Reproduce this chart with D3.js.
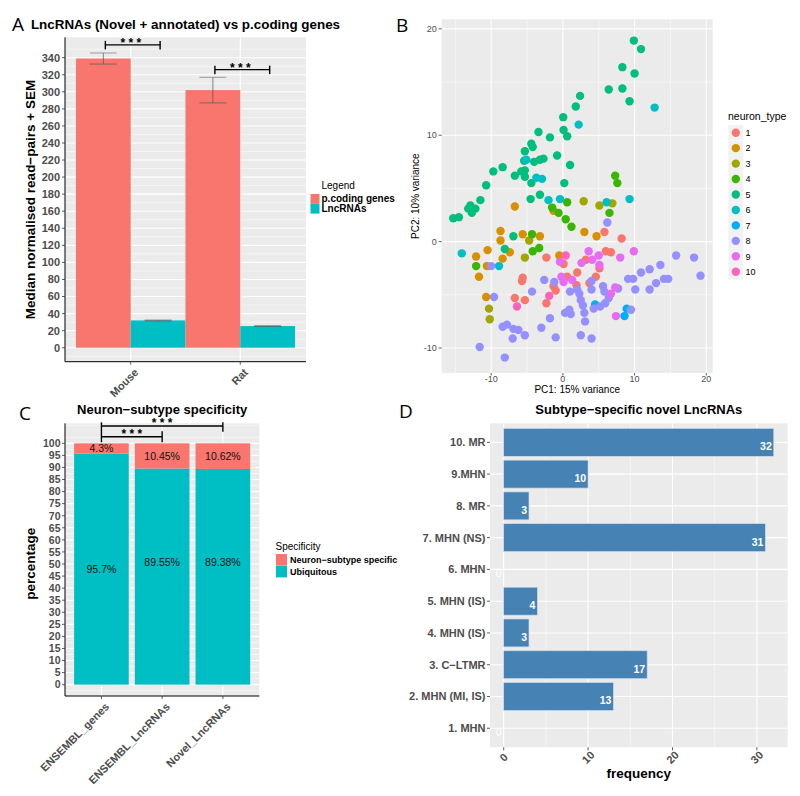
<!DOCTYPE html>
<html><head><meta charset="utf-8">
<script src="https://cdn.jsdelivr.net/npm/d3@7"></script>
<style>
body{margin:0;background:#fff}
text{font-family:"Liberation Sans",Arial,Helvetica,sans-serif}
</style>
</head><body>
<svg id="c" width="800" height="796" xmlns="http://www.w3.org/2000/svg"></svg>
<script>
// ---------------- DATA ----------------
// Panel A
const speciesA = ["Mouse", "Rat"];
const seriesA = ["p.coding genes", "LncRNAs"];
const codingMedian = [339, 302];
const codingSEM = [6.5, 15];
const lncMedian = [32, 25.4];
const lncSEM = [0.5, 0.4];
const ticksA = d3.range(0, 341, 20);
const sigA = ["* * *", "* * *"];
const sigLevelA = [355, 326];

// Panel B (PCA)
const neuronTypes = ["1","2","3","4","5","6","7","8","9","10"];
const typeColors = ["#F8766D","#D89000","#A3A500","#39B600","#00BF7D","#00BFC4","#00B0F6","#9590FF","#E76BF3","#FF62BC"];
const type1 = [[5.8,0.9],[8.2,0.3],[6.0,-0.9],[6.7,-1.0],[-2.3,-1.5],[3.2,-1.7],[5.1,-2.5],[2.0,-2.9],[4.6,-3.3],[0.6,-3.3],[-5.6,-3.4],[-5.7,-3.7],[3.7,-3.9],[-1.3,-4.2],[-1.0,-4.6],[-6.7,-5.3],[-5.3,-5.5],[-2.3,-5.8],[0.1,-2.1],[1.9,-4.1]];
const type2 = [[-6.7,3.3],[-8.7,1.0],[-8.7,0.1],[-5.6,0.7],[-3.2,0.5],[-7.4,-1.0],[-10.5,-0.8],[-12.1,-1.4],[-8.4,-1.6],[-10.6,-2.3],[-11.7,-3.3],[-10.7,-5.2],[3.0,0.9],[4.7,0.5],[-0.5,-1.3],[-1.3,2.9]];
const type3 = [[2.9,3.8],[5.1,3.4],[6.9,3.6],[-4.7,0.1],[-5.3,-1.5],[-10.3,-6.3],[-10.2,-7.3]];
const type4 = [[7.3,6.2],[7.6,5.5],[6.5,2.7],[0.6,3.7],[-1.5,3.2],[-0.6,2.7],[0.4,2.1],[1.2,1.4],[-4.3,0.7],[-3.3,-0.6],[-4.2,-0.9],[-12.1,-2.3]];
const type5 = [[9.9,18.9],[10.9,18.1],[8.3,16.4],[10.0,15.8],[6.4,14.3],[8.3,14.4],[9.3,13.2],[2.4,13.7],[1.8,12.7],[0.05,11.7],[0.1,10.5],[0.6,9.9],[-3.4,10.3],[-1.8,9.8],[-4.4,9.2],[-4.2,8.9],[-5.3,8.5],[-0.8,8.1],[-2.7,7.8],[-3.2,7.7],[-4.0,7.5],[-5.4,7.6],[1.0,7.2],[-8.4,7.0],[-9.7,6.6],[-6.7,6.2],[-5.8,6.6],[-5.3,6.7],[-5.3,6.1],[-4.4,5.5],[0.2,5.5],[-10.7,5.3],[-4.5,4.0],[-3.2,4.4],[-11.5,3.9],[-12.9,3.4],[-12.2,3.1],[-12.7,2.7],[-13.2,3.1],[-14.5,2.3],[-15.3,2.2],[-6.9,0.5],[-8.1,-0.7]];
const type6 = [[12.8,12.6],[2.2,11.0],[-5.1,7.7],[-3.7,6.0],[-2.9,5.9],[-2.0,3.9],[-0.4,4.0],[6.1,3.7],[9.3,4.0],[-14.1,-1.1],[-8.9,-2.3]];
const type7 = [[4.5,-5.9],[8.9,-6.3],[8.6,-7.0]];
const type8 = [[6.2,1.8],[15.8,-1.3],[18.3,-1.5],[19.2,-3.2],[13.6,-2.2],[10.9,-2.9],[12.1,-2.6],[9.1,-3.5],[9.8,-3.5],[10.1,-4.5],[12.1,-4.5],[13.0,-3.9],[14.1,-3.5],[14.7,-3.5],[-2.6,-3.6],[-1.2,-3.8],[-4.3,-4.7],[1.0,-4.7],[2.0,-4.5],[2.3,-4.9],[4.0,-4.5],[5.6,-4.2],[5.8,-4.7],[6.4,-5.3],[5.9,-5.8],[5.2,-6.1],[4.3,-6.3],[2.5,-5.5],[2.8,-6.0],[3.0,-6.7],[3.1,-7.5],[0.9,-6.4],[1.1,-6.8],[0.3,-6.7],[-1.8,-7.2],[-3.0,-8.1],[-1.0,-9.0],[2.5,-8.8],[4.0,-9.1],[9.5,-6.4],[7.7,-4.4],[-8.4,-8.0],[-7.8,-7.8],[-6.9,-8.2],[-6.2,-8.3],[-7.0,-9.1],[-5.3,-8.8],[-9.6,-5.2],[-10.0,-2.3],[-11.6,-9.9],[-8.1,-10.9],[4.0,-3.7]];
const type9 = [[3.6,-0.9],[5.0,-1.3],[4.1,-1.7],[8.0,-1.5],[9.9,-0.9],[-0.4,-1.9],[2.6,-2.0],[5.1,-2.2],[-0.2,-3.3],[0.1,-3.8],[1.3,-3.6],[7.3,-4.3],[6.7,-4.9],[7.4,-7.0]];
const type10 = [[0.4,-1.3],[-1.9,-5.1],[-6.4,-6.1]];
const ticksB = [-10, 0, 10, 20];

// Panel C
const groupsC = ["ENSEMBL_genes", "ENSEMBL_LncRNAs", "Novel_LncRNAs"];
const ubiquitousPct = [95.7, 89.55, 89.38];
const specificPct = [4.3, 10.45, 10.62];
const ubiqLabelAt = [47.85, 50.85, 50.85];
const ticksC = d3.range(0, 101, 5);
const specLegend = ["Neuron\u2212subtype specific", "Ubiquitous"];
const sigC = ["* * *", "* * *"];

// Panel D
const subtypesD = ["1. MHN","2. MHN (MI, IS)","3. C\u2212LTMR","4. MHN (IS)","5. MHN (IS)","6. MHN","7. MHN (NS)","8. MR","9.MHN","10. MR"];
const freqD = [0, 13, 17, 3, 4, 0, 31, 3, 10, 32];
const ticksD = [0, 10, 20, 30];

// ---------------- DRAW ----------------
const svg = d3.select("#c");
const BG = "#EBEBEB", AX = "#4D4D4D", TICK = "#333333";
const red = "#F8766D", teal = "#00BFC4";

function panelLetter(t, x, y) {
  svg.append("text").attr("x", x).attr("y", y).text(t)
    .style("font-family", '"Open Sans","DejaVu Sans",sans-serif').style("font-size", "19px").attr("fill", "#000");
}
function line(g, x1, y1, x2, y2, stroke, w) {
  g.append("line").attr("x1", x1).attr("y1", y1).attr("x2", x2).attr("y2", y2)
    .attr("stroke", stroke).attr("stroke-width", w);
}

// ===== Panel A =====
{
  const P = {l: 65, r: 306, t: 37.3, b: 361.7};
  const g = svg.append("g");
  const x = d3.scalePoint().domain(speciesA).range([P.l, P.r]).padding(0.6);
  const y = d3.scaleLinear().domain([-16.4, 363.9]).range([P.b, P.t]);
  g.append("rect").attr("x", P.l).attr("y", P.t).attr("width", P.r - P.l).attr("height", P.b - P.t).attr("fill", BG);
  d3.range(-10, 361, 20).forEach(v => line(g, P.l, y(v), P.r, y(v), "#fff", 0.5));
  ticksA.forEach(v => line(g, P.l, y(v), P.r, y(v), "#fff", 1.1));
  speciesA.forEach(s => line(g, x(s), P.t, x(s), P.b, "#fff", 1.1));
  const bw = x.step() / 2;
  speciesA.forEach((s, i) => {
    g.append("rect").attr("x", x(s) - bw).attr("y", y(codingMedian[i])).attr("width", bw)
      .attr("height", y(0) - y(codingMedian[i])).attr("fill", red);
    g.append("rect").attr("x", x(s)).attr("y", y(lncMedian[i])).attr("width", bw)
      .attr("height", y(0) - y(lncMedian[i])).attr("fill", teal);
    const eb = (cx, v, e) => {
      line(g, cx, y(v - e), cx, y(v + e), "#555", 0.7);
      line(g, cx - 13.5, y(v + e), cx + 13.5, y(v + e), "#777", 0.7);
      line(g, cx - 13.5, y(v - e), cx + 13.5, y(v - e), "#555", 0.7);
    };
    eb(x(s) - bw / 2, codingMedian[i], codingSEM[i]);
    eb(x(s) + bw / 2, lncMedian[i], lncSEM[i]);
    // significance bracket
    const by = y(sigLevelA[i]);
    const x1 = x(s) - bw / 2 + 2, x2 = x(s) + bw / 2 + 2;
    line(g, x1, by, x2, by, "#000", 1.4);
    line(g, x1, by - 4, x1, by + 4.5, "#000", 1.4);
    line(g, x2, by - 4, x2, by + 4.5, "#000", 1.4);
    g.append("text").attr("x", x(s)).attr("y", by + 2.5).attr("text-anchor", "middle")
      .style("font-size", "12px").style("font-weight", "bold").text(sigA[i]);
  });
  // axes
  line(g, P.l, P.t, P.l, P.b, "#000", 1);
  line(g, P.l, P.b, P.r, P.b, "#000", 1);
  ticksA.forEach(v => {
    line(g, P.l - 3, y(v), P.l, y(v), TICK, 0.8);
    g.append("text").attr("x", P.l - 5).attr("y", y(v)).attr("dy", "0.36em").attr("text-anchor", "end")
      .attr("fill", AX).style("font-size", "11px").style("font-weight", "bold").text(v);
  });
  speciesA.forEach(s => {
    line(g, x(s), P.b, x(s), P.b + 3, TICK, 0.8);
    g.append("text").attr("transform", `translate(${x(s) + 3},${P.b + 6}) rotate(-45)`)
      .attr("text-anchor", "end").attr("dy", "0.7em").attr("fill", AX)
      .style("font-size", "11px").style("font-weight", "bold").text(s);
  });
  g.append("text").attr("transform", `translate(35,${(P.t + P.b) / 2}) rotate(-90)`).attr("text-anchor", "middle")
    .style("font-size", "13.5px").style("font-weight", "bold").text("Median normalised read\u2212pairs + SEM");
  g.append("text").attr("x", (P.l + P.r) / 2).attr("y", 28.5).attr("text-anchor", "middle")
    .style("font-size", "13.4px").style("font-weight", "bold").text("LncRNAs (Novel + annotated) vs p.coding genes");
  // legend
  g.append("text").attr("x", 321.5).attr("y", 189).style("font-size", "10px").text("Legend");
  [red, teal].forEach((c, i) => {
    g.append("rect").attr("x", 310.5).attr("y", 194 + i * 9.8).attr("width", 9).attr("height", 9.8).attr("fill", c);
    g.append("text").attr("x", 321.5).attr("y", 199 + i * 9.8).attr("dy", "0.34em")
      .style("font-size", "10px").style("font-weight", "bold").text(seriesA[i]);
  });
  panelLetter("A", 12, 31);
}

// ===== Panel B =====
{
  const P = {l: 441.7, r: 712.7, t: 19.3, b: 373};
  const g = svg.append("g");
  const x = d3.scaleLinear().domain([-16.9, 20.9]).range([P.l, P.r]);
  const y = d3.scaleLinear().domain([-12.35, 20.9]).range([P.b, P.t]);
  g.append("rect").attr("x", P.l).attr("y", P.t).attr("width", P.r - P.l).attr("height", P.b - P.t).attr("fill", BG);
  [-15, -5, 5, 15].forEach(v => line(g, x(v), P.t, x(v), P.b, "#fff", 0.5));
  [-5, 5, 15].forEach(v => line(g, P.l, y(v), P.r, y(v), "#fff", 0.5));
  ticksB.forEach(v => { line(g, x(v), P.t, x(v), P.b, "#fff", 1.1); line(g, P.l, y(v), P.r, y(v), "#fff", 1.1); });
  const all = [type1, type2, type3, type4, type5, type6, type7, type8, type9, type10];
  all.forEach((pts, k) => {
    g.selectAll(null).data(pts).enter().append("circle")
      .attr("cx", d => x(d[0])).attr("cy", d => y(d[1])).attr("r", 4.2).attr("fill", typeColors[k]);
  });
  ticksB.forEach(v => {
    line(g, P.l - 3, y(v), P.l, y(v), TICK, 0.8);
    g.append("text").attr("x", P.l - 5).attr("y", y(v)).attr("dy", "0.36em").attr("text-anchor", "end")
      .attr("fill", AX).style("font-size", "9px").text(v);
    line(g, x(v), P.b, x(v), P.b + 2.5, TICK, 0.8);
    g.append("text").attr("x", x(v)).attr("y", 381.5).attr("text-anchor", "middle")
      .attr("fill", AX).style("font-size", "9px").text(v);
  });
  g.append("text").attr("x", (P.l + P.r) / 2).attr("y", 393).attr("text-anchor", "middle")
    .style("font-size", "10px").text("PC1: 15% variance");
  g.append("text").attr("transform", `translate(419,${(P.t + P.b) / 2}) rotate(-90)`).attr("text-anchor", "middle")
    .style("font-size", "10px").text("PC2: 10% variance");
  g.append("text").attr("x", 728).attr("y", 120).style("font-size", "10.5px").text("neuron_type");
  neuronTypes.forEach((t, i) => {
    const cy = 132.7 + i * 15.45;
    g.append("rect").attr("x", 728.3).attr("y", cy - 7.7).attr("width", 15).attr("height", 15.4).attr("fill", "#F2F2F2");
    g.append("circle").attr("cx", 735.8).attr("cy", cy).attr("r", 4.2).attr("fill", typeColors[i]);
    g.append("text").attr("x", 745.5).attr("y", cy).attr("dy", "0.36em").style("font-size", "9px").text(t);
  });
  panelLetter("B", 396, 32);
}

// ===== Panel C =====
{
  const P = {l: 65, r: 259.3, t: 423.3, b: 696};
  const g = svg.append("g");
  const x = d3.scalePoint().domain(groupsC).range([P.l, P.r]).padding(0.6);
  const y = d3.scaleLinear().domain([-4.7, 108.3]).range([P.b, P.t]);
  g.append("rect").attr("x", P.l).attr("y", P.t).attr("width", P.r - P.l).attr("height", P.b - P.t).attr("fill", BG);
  d3.range(-2.5, 108, 5).forEach(v => line(g, P.l, y(v), P.r, y(v), "#fff", 0.5));
  ticksC.forEach(v => line(g, P.l, y(v), P.r, y(v), "#fff", 1.1));
  groupsC.forEach(s => line(g, x(s), P.t, x(s), P.b, "#fff", 1.1));
  const bw = x.step() * 0.9;
  groupsC.forEach((s, i) => {
    g.append("rect").attr("x", x(s) - bw / 2).attr("y", y(ubiquitousPct[i])).attr("width", bw)
      .attr("height", y(0) - y(ubiquitousPct[i])).attr("fill", teal);
    const top = ubiquitousPct[i] + specificPct[i];
    g.append("rect").attr("x", x(s) - bw / 2).attr("y", y(top)).attr("width", bw)
      .attr("height", y(ubiquitousPct[i]) - y(top)).attr("fill", red);
    g.append("text").attr("x", x(s)).attr("y", y(ubiquitousPct[i] + specificPct[i] / 2)).attr("dy", "0.36em")
      .attr("text-anchor", "middle").attr("fill", "#111").style("font-size", "10.5px").text(specificPct[i] + "%");
    g.append("text").attr("x", x(s)).attr("y", y(ubiqLabelAt[i])).attr("dy", "0.36em")
      .attr("text-anchor", "middle").attr("fill", "#111").style("font-size", "10.5px").text(ubiquitousPct[i] + "%");
  });
  // significance brackets
  const x0 = x(groupsC[0]), x1b = x(groupsC[1]), x2b = x(groupsC[2]);
  const yTop = 426, yLow = 436.7;
  line(g, x0, yTop, x2b, yTop, "#000", 1.4);
  line(g, x2b, yTop - 3.7, x2b, yTop + 5.7, "#000", 1.4);
  line(g, x0, yTop - 3.7, x0, yLow + 5.5, "#000", 1.4);
  line(g, x0, yLow, x1b, yLow, "#000", 1.4);
  line(g, x1b, yLow - 5.5, x1b, yLow + 5.5, "#000", 1.4);
  g.append("text").attr("x", (x0 + x2b) / 2).attr("y", yTop + 0.5).attr("text-anchor", "middle")
    .style("font-size", "12px").style("font-weight", "bold").text(sigC[0]);
  g.append("text").attr("x", (x0 + x1b) / 2).attr("y", yLow + 0.8).attr("text-anchor", "middle")
    .style("font-size", "12px").style("font-weight", "bold").text(sigC[1]);
  // axes
  line(g, P.l, P.t, P.l, P.b, "#000", 1);
  line(g, P.l, P.b, P.r, P.b, "#000", 1);
  ticksC.forEach(v => {
    line(g, P.l - 3, y(v), P.l, y(v), TICK, 0.8);
    g.append("text").attr("x", P.l - 4.5).attr("y", y(v)).attr("dy", "0.36em").attr("text-anchor", "end")
      .attr("fill", AX).style("font-size", "10.5px").style("font-weight", "bold").text(v);
  });
  groupsC.forEach(s => {
    line(g, x(s), P.b, x(s), P.b + 3, TICK, 0.8);
    g.append("text").attr("transform", `translate(${x(s) + 3},${P.b + 6}) rotate(-45)`)
      .attr("text-anchor", "end").attr("dy", "0.7em").attr("fill", AX)
      .style("font-size", "11px").style("font-weight", "bold").text(s);
  });
  g.append("text").attr("transform", `translate(35,${(P.t + P.b) / 2 + 4}) rotate(-90)`).attr("text-anchor", "middle")
    .style("font-size", "13.5px").style("font-weight", "bold").text("percentage");
  g.append("text").attr("x", (P.l + P.r) / 2).attr("y", 414).attr("text-anchor", "middle")
    .style("font-size", "13px").style("font-weight", "bold").text("Neuron\u2212subtype specificity");
  g.append("text").attr("x", 275.5).attr("y", 550).style("font-size", "10px").text("Specificity");
  [red, teal].forEach((c, i) => {
    g.append("rect").attr("x", 276).attr("y", 554 + i * 11.8).attr("width", 11).attr("height", 11.6).attr("fill", c);
    g.append("text").attr("x", 290).attr("y", 560 + i * 11.8).attr("dy", "0.36em")
      .style("font-size", "9px").style("font-weight", "bold").text(specLegend[i]);
  });
  panelLetter("C", 19, 420);
}

// ===== Panel D =====
{
  const P = {l: 490, r: 787.7, t: 423.3, b: 747.3};
  const g = svg.append("g");
  const x = d3.scaleLinear().domain([-1.62, 33.65]).range([P.l, P.r]);
  const y = d3.scalePoint().domain(subtypesD.slice().reverse()).range([P.t, P.b]).padding(0.6);
  g.append("rect").attr("x", P.l).attr("y", P.t).attr("width", P.r - P.l).attr("height", P.b - P.t).attr("fill", BG);
  [5, 15, 25].forEach(v => line(g, x(v), P.t, x(v), P.b, "#fff", 0.5));
  ticksD.forEach(v => line(g, x(v), P.t, x(v), P.b, "#fff", 1.1));
  subtypesD.forEach(s => line(g, P.l, y(s), P.r, y(s), "#fff", 1.1));
  const bh = y.step() * 0.88;
  subtypesD.forEach((s, i) => {
    if (freqD[i] > 0) {
      g.append("rect").attr("x", x(0)).attr("y", y(s) - bh / 2).attr("width", x(freqD[i]) - x(0))
        .attr("height", bh).attr("fill", "#4682B4").attr("stroke", "#cfdbe7").attr("stroke-width", 0.7);
    }
    g.append("text").attr("x", x(freqD[i]) - 2).attr("y", y(s) + 8).attr("text-anchor", "end")
      .attr("fill", "#fff").style("font-size", "10.5px").style("font-weight", freqD[i] > 0 ? "bold" : "normal").text(freqD[i]);
    line(g, P.l - 3, y(s), P.l, y(s), TICK, 0.8);
    g.append("text").attr("x", P.l - 4.5).attr("y", y(s)).attr("dy", "0.36em").attr("text-anchor", "end")
      .attr("fill", AX).style("font-size", "11px").style("font-weight", "bold").text(s);
  });
  ticksD.forEach(v => {
    line(g, x(v), P.b, x(v), P.b + 3, TICK, 0.8);
    g.append("text").attr("transform", `translate(${x(v)},${P.b + 10}) rotate(-45)`)
      .attr("text-anchor", "middle").attr("dy", "0.36em").attr("fill", AX)
      .style("font-size", "11px").style("font-weight", "bold").text(v);
  });
  g.append("text").attr("x", (P.l + P.r) / 2).attr("y", 778).attr("text-anchor", "middle")
    .style("font-size", "13.5px").style("font-weight", "bold").text("frequency");
  g.append("text").attr("x", (P.l + P.r) / 2).attr("y", 414).attr("text-anchor", "middle")
    .style("font-size", "13px").style("font-weight", "bold").text("Subtype\u2212specific novel LncRNAs");
  panelLetter("D", 399, 418);
}
</script>
</body></html>
